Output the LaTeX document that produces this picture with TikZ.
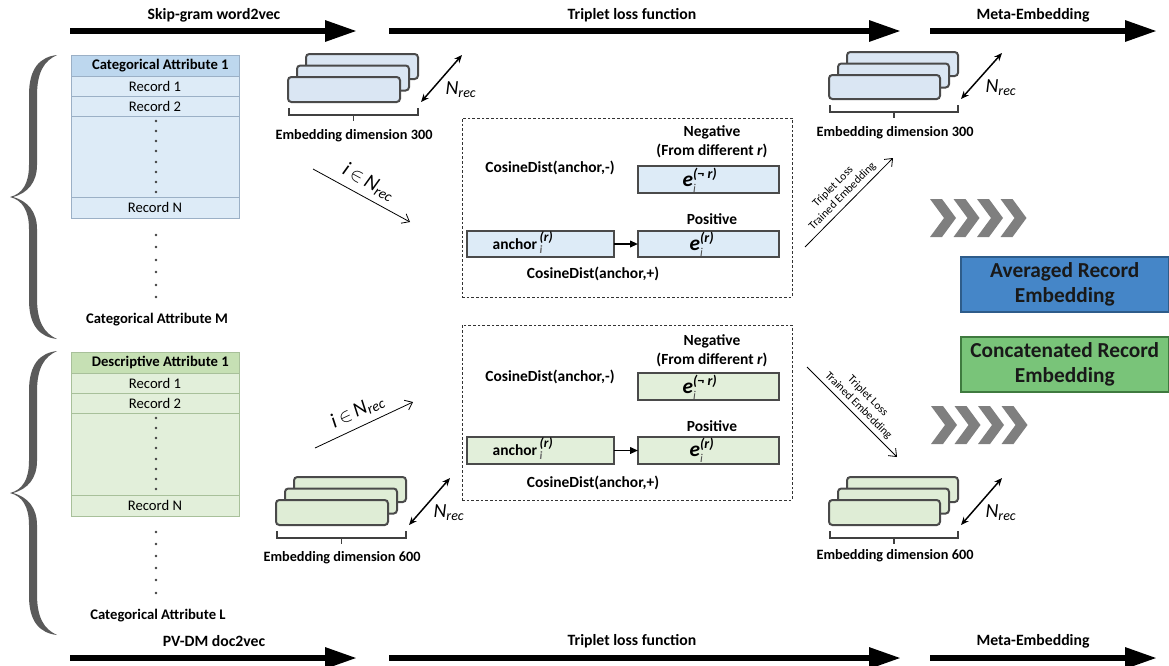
\documentclass[tikz,border=0pt]{standalone}
\usepackage{fontspec}
\setmainfont{Carlito}
\usetikzlibrary{arrows.meta}

\definecolor{rowB}{HTML}{DDEBF7}
\definecolor{hdrB}{HTML}{BDD7EE}
\definecolor{tblB}{HTML}{9BB0C6}
\definecolor{rowG}{HTML}{E2EFDA}
\definecolor{hdrG}{HTML}{C6E0B4}
\definecolor{tblG}{HTML}{A8C09A}
\definecolor{stkB}{HTML}{DAE6F3}
\definecolor{stkG}{HTML}{DFEDD6}
\definecolor{stkEdge}{HTML}{4A4A4A}
\definecolor{avgB}{HTML}{4586C8}
\definecolor{avgEdge}{HTML}{2E5C8A}
\definecolor{catG}{HTML}{79C479}
\definecolor{catEdge}{HTML}{3F7A3F}
\definecolor{chevC}{HTML}{7F7F7F}
\definecolor{braceC}{HTML}{5A5A5A}

% box given by its corners in pixel units
\newcommand\rbox[7]{\node[#2, minimum width={((#5)-(#3))*0.75pt}, minimum height={((#6)-(#4))*0.75pt}] (#1) at ({((#3)+(#5))/2},{((#4)+(#6))/2}) {#7};}

% a stack of three embedding sheets: name, fill, x, y (front top-left), width, height
\newcommand\embstack[6]{%
  \rbox{#1back}{sheet,fill=#2}{#3+18}{#4-23}{#3+18+#5}{#4-23+#6}{}
  \rbox{#1mid}{sheet,fill=#2}{#3+9}{#4-11.5}{#3+9+#5}{#4-11.5+#6}{}
  \rbox{#1front}{sheet,fill=#2}{#3}{#4}{#3+#5}{#4+#6}{}
  \draw[brk] ({#3+1},{#4+#6+6}) -- ({#3+1},{#4+#6+13}) -- ({#3+18+#5},{#4+#6+13}) -- ({#3+18+#5},{#4+#6+6});
  \draw[brk] ({#3+(19+#5)/2},{#4+#6+13}) -- ({#3+(19+#5)/2},{#4+#6+19});
  \coordinate (#1da) at ({#3+#5+21},{#4+#6});
  \coordinate (#1db) at ({#3+#5+62},{#4-22});
  \draw[dbl] (#1da) -- (#1db);
  \node[nrec] (#1n) at ({#3+#5+61},{#4+13}) {\textit{N}\textsubscript{\textit{rec}}};
}

\newcommand\chevrons[2]{%
  \foreach \k in {0,1,2,3}
    \fill[chevC] ({#1+23.5*\k},#2) -- ++(12,0) -- ++(14,19) -- ++(-14,19) -- ++(-12,0) -- ++(14,-19) -- cycle;
}

\newcommand\curlybrace{%
  \fill[braceC] (57,55) .. controls (40,57) and (29,68) .. (29,95) -- (29,165)
    .. controls (29,184) and (22,194) .. (10,197)
    .. controls (22,200) and (29,210) .. (29,229) -- (29,300)
    .. controls (29,326) and (40,337) .. (57,339)
    .. controls (44,333) and (37,322) .. (37,298) -- (37,229)
    .. controls (37,212) and (28,201) .. (13,197)
    .. controls (28,193) and (37,182) .. (37,165) -- (37,96)
    .. controls (37,72) and (44,61) .. (57,55) -- cycle;
}

\newcommand\evec[1]{{\bfseries\itshape e}$^{\mbox{\fontsize{10.5}{10.5}\selectfont\bfseries\itshape #1}}_{\mbox{\fontsize{9}{9}\selectfont\itshape\color{black!70}i}}$}
\newcommand\anchorvec{anchor\,$^{\mbox{\fontsize{10}{10}\selectfont\bfseries\itshape (r)}}_{\mbox{\fontsize{8.5}{8.5}\selectfont\itshape\color{black!60}i}}$}

\tikzset{
  every node/.style={inner sep=0pt, outer sep=0pt},
  bigarrow/.style={line width=4.5pt, -{Triangle[length=24pt,width=15pt]}},
  phase/.style={font=\bfseries\fontsize{11.8}{14}\selectfont},
  cellB/.style={draw=tblB, line width=0.6pt, fill=rowB, font=\fontsize{11}{13}\selectfont},
  headB/.style={cellB, fill=hdrB, font=\bfseries\fontsize{11}{13}\selectfont},
  cellG/.style={draw=tblG, line width=0.6pt, fill=rowG, font=\fontsize{11}{13}\selectfont},
  headG/.style={cellG, fill=hdrG, font=\bfseries\fontsize{11}{13}\selectfont},
  caption/.style={font=\bfseries\fontsize{11}{13}\selectfont},
  stackcap/.style={font=\bfseries\fontsize{10.7}{13}\selectfont},
  boxtext/.style={font=\bfseries\fontsize{11.6}{14}\selectfont},
  sheet/.style={draw=stkEdge, line width=1.5pt, rounded corners=2.5pt},
  brk/.style={draw=black!75, line width=0.8pt},
  dbl/.style={line width=1.1pt, {Stealth[length=6pt,width=5pt]}-{Stealth[length=6pt,width=5pt]}},
  nrec/.style={font=\fontsize{15}{15}\selectfont},
  thinarrow/.style={line width=0.6pt, -{Straight Barb[length=5pt,width=8pt,line width=0.6pt]}},
  idxlabel/.style={font=\fontsize{15.5}{15.5}\selectfont, above=5pt, sloped},
  trlabel/.style={font=\fontsize{8.6}{10}\selectfont, align=center, above=3pt, sloped},
  tripbox/.style={dash pattern=on 2pt off 1.5pt, draw=black!80, line width=0.6pt},
  vecB/.style={draw=stkEdge, line width=0.8pt, fill=rowB},
  vecG/.style={draw=stkEdge, line width=0.8pt, fill=rowG},
  vectext/.style={font=\fontsize{16}{16}\selectfont},
  pairarrow/.style={line width=1.2pt, -{Triangle[length=6pt,width=5pt]}},
  dotc/.style={fill=black!75},
  result/.style={font=\bfseries\fontsize{16}{19}\selectfont, align=center, text=black!90},
}

\begin{document}
\begin{tikzpicture}[x=0.75pt,y=-0.75pt]
\useasboundingbox (0,0) rectangle (1169,665);

% ---- phase arrows, top and bottom
\coordinate (ta1) at (70,31);  \coordinate (tb1) at (357,31);
\coordinate (ta2) at (389,31); \coordinate (tb2) at (901,31);
\coordinate (ta3) at (930,31); \coordinate (tb3) at (1157,31);
\draw[bigarrow] (ta1) -- (tb1);
\draw[bigarrow] (ta2) -- (tb2);
\draw[bigarrow] (ta3) -- (tb3);
\node[phase] (p1) at (214,15) {Skip-gram word2vec};
\node[phase] (p2) at (632,15) {Triplet loss function};
\node[phase] (p3) at (1033,15) {Meta-Embedding};

\coordinate (ba1) at (70,658);  \coordinate (bb1) at (357,658);
\coordinate (ba2) at (389,658); \coordinate (bb2) at (901,658);
\coordinate (ba3) at (930,658); \coordinate (bb3) at (1157,658);
\draw[bigarrow] (ba1) -- (bb1);
\draw[bigarrow] (ba2) -- (bb2);
\draw[bigarrow] (ba3) -- (bb3);
\node[phase] (q1) at (214,641) {PV-DM doc2vec};
\node[phase] (q2) at (632,641) {Triplet loss function};
\node[phase] (q3) at (1033,641) {Meta-Embedding};

% ---- braces grouping the attributes
\curlybrace
\begin{scope}[yshift={-296*0.75pt}]
  \curlybrace
\end{scope}

% ---- categorical attribute table
\rbox{c1h}{headB}{71}{55}{239}{76}{\hspace*{8pt}Categorical Attribute 1}
\rbox{c1r1}{cellB}{71}{76}{239}{96}{Record 1}
\rbox{c1r2}{cellB}{71}{96}{239}{116}{Record 2}
\rbox{c1d}{cellB}{71}{116}{239}{197}{}
\rbox{c1rn}{cellB}{71}{197}{239}{218}{Record N}
\foreach \yy in {121,131,141,151,162,172,182,192} \fill[dotc] (156,\yy) circle (1pt);
\foreach \yy in {235,247,260,272,285,297} \fill[dotc] (156,\yy) circle (1pt);
\node[caption] (cm) at (157,320) {Categorical Attribute M};

% ---- descriptive attribute table
\rbox{d1h}{headG}{71}{352}{239}{373}{\hspace*{8pt}Descriptive Attribute 1}
\rbox{d1r1}{cellG}{71}{373}{239}{393}{Record 1}
\rbox{d1r2}{cellG}{71}{393}{239}{413}{Record 2}
\rbox{d1d}{cellG}{71}{413}{239}{495}{}
\rbox{d1rn}{cellG}{71}{495}{239}{516}{Record N}
\foreach \yy in {418,428,438,448,459,469,479,489} \fill[dotc] (156,\yy) circle (1pt);
\foreach \yy in {532,544,556,568,580,593} \fill[dotc] (156,\yy) circle (1pt);
\node[caption] (cl) at (158,616) {Categorical Attribute L};

% ---- embedding stacks
\embstack{sa}{stkB}{288}{77}{112}{25}
\node[stackcap] (sacap) at (354,136) {Embedding dimension 300};
\embstack{sb}{stkG}{276}{500}{112}{25}
\node[stackcap] (sbcap) at (342,558) {Embedding dimension 600};
\embstack{sc}{stkB}{829}{75}{111}{24}
\node[stackcap] (sccap) at (895,133) {Embedding dimension 300};
\embstack{sd}{stkG}{829}{500}{111}{25}
\node[stackcap] (sdcap) at (895,556) {Embedding dimension 600};

% ---- record index arrows
\coordinate (ia1) at (313,169); \coordinate (ib1) at (410,222);
\draw[thinarrow] (ia1) -- node[idxlabel] {\textit{i}\,$\in$\,\textit{N}\textsubscript{\textit{rec}}} (ib1);
\coordinate (ia2) at (315,448); \coordinate (ib2) at (413,402);
\draw[thinarrow] (ia2) -- node[idxlabel] {\textit{i}\,$\in$\,\textit{N}\textsubscript{\textit{rec}}} (ib2);

% ---- triplet loss, categorical part
\rbox{tA}{tripbox}{462}{118}{792}{297}{}
\node[boxtext, align=center] (negA) at (712,142) {Negative\\(From different \textit{r})};
\node[boxtext] (cdnA) at (550,168) {CosineDist(anchor,-)};
\rbox{eA}{vecB}{638}{166}{779}{193}{}
\node[vectext] (eAt) at (700,180) {\evec{(¬ r)}};
\node[boxtext] (posA) at (712,219) {Positive};
\rbox{aA}{vecB}{467}{231}{614}{257}{}
\node[boxtext] (aAt) at (523,243) {\anchorvec};
\rbox{pA}{vecB}{638}{231}{779}{257}{}
\node[vectext] (pAt) at (702,244) {\evec{(r)}};
\draw[pairarrow] (aA.east) -- (pA.west);
\node[boxtext] (cdpA) at (593,274) {CosineDist(anchor,+)};

% ---- triplet loss, descriptive part
\rbox{tB}{tripbox}{462}{325}{792}{500}{}
\node[boxtext, align=center] (negB) at (712,351) {Negative\\(From different \textit{r})};
\node[boxtext] (cdnB) at (550,377) {CosineDist(anchor,-)};
\rbox{eB}{vecG}{638}{373}{779}{400}{}
\node[vectext] (eBt) at (700,387) {\evec{(¬ r)}};
\node[boxtext] (posB) at (712,426) {Positive};
\rbox{aB}{vecG}{467}{437}{614}{464}{}
\node[boxtext] (aBt) at (523,449) {\anchorvec};
\rbox{pB}{vecG}{638}{437}{779}{464}{}
\node[vectext] (pBt) at (702,450) {\evec{(r)}};
\draw[pairarrow] (aB.east) -- (pB.west);
\node[boxtext] (cdpB) at (593,483) {CosineDist(anchor,+)};

% ---- trained embedding arrows
\coordinate (ra1) at (805,247); \coordinate (rb1) at (893,158);
\draw[thinarrow] (ra1) -- node[trlabel] {Triplet Loss\\Trained Embedding} (rb1);
\coordinate (ra2) at (807,367); \coordinate (rb2) at (897,457);
\draw[thinarrow] (ra2) -- node[trlabel] {Triplet Loss\\Trained Embedding} (rb2);

% ---- meta-embedding
\chevrons{930}{199}
\chevrons{931}{406}
\rbox{avg}{draw=avgEdge, line width=0.8pt, fill=avgB, result}{961}{257}{1168.5}{312}{Averaged Record\\Embedding}
\rbox{cat}{draw=catEdge, line width=0.8pt, fill=catG, result}{961}{337}{1168.5}{392}{Concatenated Record\\Embedding}
\end{tikzpicture}
\end{document}
